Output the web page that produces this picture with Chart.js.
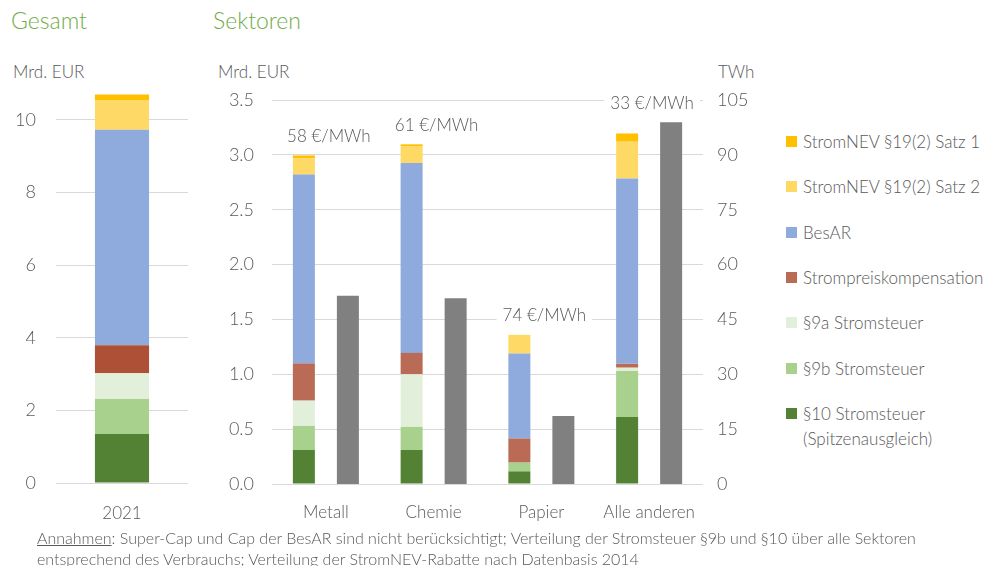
<!DOCTYPE html>
<html lang="de">
<head>
<meta charset="utf-8">
<script src="https://cdn.jsdelivr.net/npm/chart.js@4.4.1/dist/chart.umd.min.js"></script>
<style>
  body { margin: 0; width: 1003px; height: 566px; background: #fff; overflow: hidden; font-family: Lato, "Open Sans", sans-serif; font-weight: 300; color: #595959; position: relative; }
  .title { position: absolute; top: 6px; font-size: 23px; color: #70AD47; }
  .axis-title { position: absolute; top: 61px; font-size: 17px; color: #595959; }
  .box { position: absolute; }
  #legend { position: absolute; left: 786px; top: 129px; font-size: 17px; }
  .leg-item { position: absolute; left: 0; display: flex; align-items: flex-start; white-space: nowrap; line-height: 25px; }
  .leg-sw { width: 11px; height: 11px; margin: 7px 6px 0 0; flex: none; }
  #note { position: absolute; left: 37px; top: 527px; font-size: 16px; line-height: 21px; color: #595959; white-space: nowrap; }
</style>
</head>
<body>
<div class="title" style="left:11px">Gesamt</div>
<div class="title" style="left:213px">Sektoren</div>
<div class="axis-title" style="left:13px">Mrd. EUR</div>
<div class="axis-title" style="left:218px">Mrd. EUR</div>
<div class="axis-title" style="left:718px">TWh</div>

<div class="box" style="left:0;top:60px;width:200px;height:470px"><canvas id="gesamtChart"></canvas></div>
<div class="box" style="left:205px;top:60px;width:575px;height:470px"><canvas id="sektorChart"></canvas></div>
<div id="legend"></div>
<div id="note"><u>Annahmen</u>: Super-Cap und Cap der BesAR sind nicht berücksichtigt; Verteilung der Stromsteuer §9b und §10 über alle Sektoren<br>entsprechend des Verbrauchs; Verteilung der StromNEV-Rabatte nach Datenbasis 2014</div>

<script>
// ── Data ────────────────────────────────────────────────
const seriesNames = ['§10 Stromsteuer (Spitzenausgleich)', '§9b Stromsteuer', '§9a Stromsteuer',
    'Strompreiskompensation', 'BesAR', 'StromNEV §19(2) Satz 2', 'StromNEV §19(2) Satz 1'];
const seriesColors = ['#548235', '#A9D18E', '#E2EFDA', '#BA6B56', '#8FAADC', '#FFD966', '#FFC000'];

// Gesamt 2021, Mrd. EUR (same order as seriesNames)
const gesamtYear = ['2021'];
const gesamtValues = [1.35, 0.96, 0.71, 0.77, 5.94, 0.82, 0.15];

// Sektoren, Mrd. EUR
const sectors = ['Metall', 'Chemie', 'Papier', 'Alle anderen'];
const spitzenausgleich = [0.31, 0.31, 0.115, 0.61];
const stromsteuer9b = [0.22, 0.21, 0.08, 0.42];
const stromsteuer9a = [0.23, 0.48, 0, 0.03];
const strompreisKomp = [0.34, 0.195, 0.22, 0.035];
const besar = [1.72, 1.73, 0.775, 1.69];
const nevSatz2 = [0.15, 0.155, 0.17, 0.335];
const nevSatz1 = [0.025, 0.016, 0, 0.075];
const verbrauchTWh = [51.5, 50.8, 18.6, 98.9];
const preisLabels = ['58 €/MWh', '61 €/MWh', '74 €/MWh', '33 €/MWh'];

const sectorSeries = [spitzenausgleich, stromsteuer9b, stromsteuer9a, strompreisKomp, besar, nevSatz2, nevSatz1];

// ── Common styling ──────────────────────────────────────
const TXT = '#595959';
const GRID = '#D9D9D9';
const FONT = 'Lato, "Open Sans", sans-serif';
Chart.defaults.font.family = FONT;
Chart.defaults.font.weight = 300;
Chart.defaults.color = TXT;
Chart.defaults.animation = false;

const fixWidth = w => scale => { scale.width = w; };
const fixHeight = h => scale => { scale.height = h; };

// ── Gesamt chart ────────────────────────────────────────
new Chart(document.getElementById('gesamtChart'), {
    type: 'bar',
    data: {
        labels: gesamtYear,
        datasets: seriesNames.map((name, i) => ({
            label: name,
            data: [gesamtValues[i]],
            backgroundColor: i === 3 ? '#AE5035' : seriesColors[i],
            barPercentage: 0.41,
            categoryPercentage: 1
        }))
    },
    options: {
        responsive: true,
        maintainAspectRatio: false,
        layout: { padding: { top: 14, right: 12 } },
        plugins: { legend: { display: false }, tooltip: { enabled: false } },
        scales: {
            x: {
                stacked: true,
                grid: { display: false },
                border: { display: false },
                ticks: { font: { size: 17 }, padding: 12 },
                afterFit: fixHeight(47)
            },
            y: {
                stacked: true,
                min: 0, max: 10.8,
                grid: { color: GRID, drawTicks: false },
                border: { display: false },
                ticks: { stepSize: 2, includeBounds: false, font: { size: 18 }, padding: 20 },
                afterFit: fixWidth(56)
            }
        }
    }
});

// ── Sektoren chart ──────────────────────────────────────
const priceLabelPlugin = {
    id: 'priceLabels',
    afterDatasetsDraw(chart) {
        const { ctx, scales: { x, y, y2 } } = chart;
        ctx.save();
        ctx.font = '300 17px ' + FONT;
        ctx.textAlign = 'center';
        ctx.textBaseline = 'middle';
        sectors.forEach((s, i) => {
            const total = sectorSeries.reduce((sum, arr) => sum + arr[i], 0);
            const top = Math.min(y.getPixelForValue(total), y2.getPixelForValue(verbrauchTWh[i]));
            const cx = x.getPixelForValue(i) + 3;
            const cy = top - 19;
            const w = ctx.measureText(preisLabels[i]).width + 12;
            ctx.fillStyle = '#fff';
            ctx.fillRect(cx - w / 2, cy - 11, w, 22);
            ctx.fillStyle = TXT;
            ctx.fillText(preisLabels[i], cx, cy);
        });
        ctx.restore();
    }
};

const sectorDatasets = seriesNames.map((name, i) => ({
    label: name,
    data: sectorSeries[i],
    backgroundColor: seriesColors[i],
    stack: 'eur',
    yAxisID: 'y',
    barPercentage: 0.5,
    categoryPercentage: 0.817
}));
sectorDatasets.push({
    label: 'Verbrauch',
    data: verbrauchTWh,
    backgroundColor: '#808080',
    stack: 'twh',
    yAxisID: 'y2',
    barPercentage: 0.5,
    categoryPercentage: 0.817
});

new Chart(document.getElementById('sektorChart'), {
    type: 'bar',
    data: { labels: sectors, datasets: sectorDatasets },
    options: {
        responsive: true,
        maintainAspectRatio: false,
        layout: { padding: { top: 40 } },
        plugins: { legend: { display: false }, tooltip: { enabled: false } },
        scales: {
            x: {
                stacked: true,
                grid: { display: false },
                border: { display: false },
                ticks: { font: { size: 17 }, padding: 10 },
                afterFit: fixHeight(46)
            },
            y: {
                stacked: true,
                position: 'left',
                min: 0, max: 3.5,
                grid: { color: GRID, drawTicks: false },
                border: { display: false },
                ticks: { stepSize: 0.5, font: { size: 18 }, padding: 18, callback: v => v.toFixed(1) },
                afterFit: fixWidth(67)
            },
            y2: {
                stacked: true,
                position: 'right',
                min: 0, max: 105,
                grid: { display: false, drawTicks: false },
                border: { display: false },
                ticks: { stepSize: 15, font: { size: 18 }, padding: 14 },
                afterFit: fixWidth(77)
            }
        }
    },
    plugins: [priceLabelPlugin]
});

// ── Legend ──────────────────────────────────────────────
const legendEl = document.getElementById('legend');
const legendOrder = seriesNames.map((_, i) => i).reverse();
legendEl.innerHTML = legendOrder.map((idx, row) => {
    const name = seriesNames[idx].replace(' (', '<br>(');
    return `<div class="leg-item" style="top:${row * 45.3}px">
        <span class="leg-sw" style="background:${seriesColors[idx]}"></span><span>${name}</span></div>`;
}).join('');
</script>
</body>
</html>
